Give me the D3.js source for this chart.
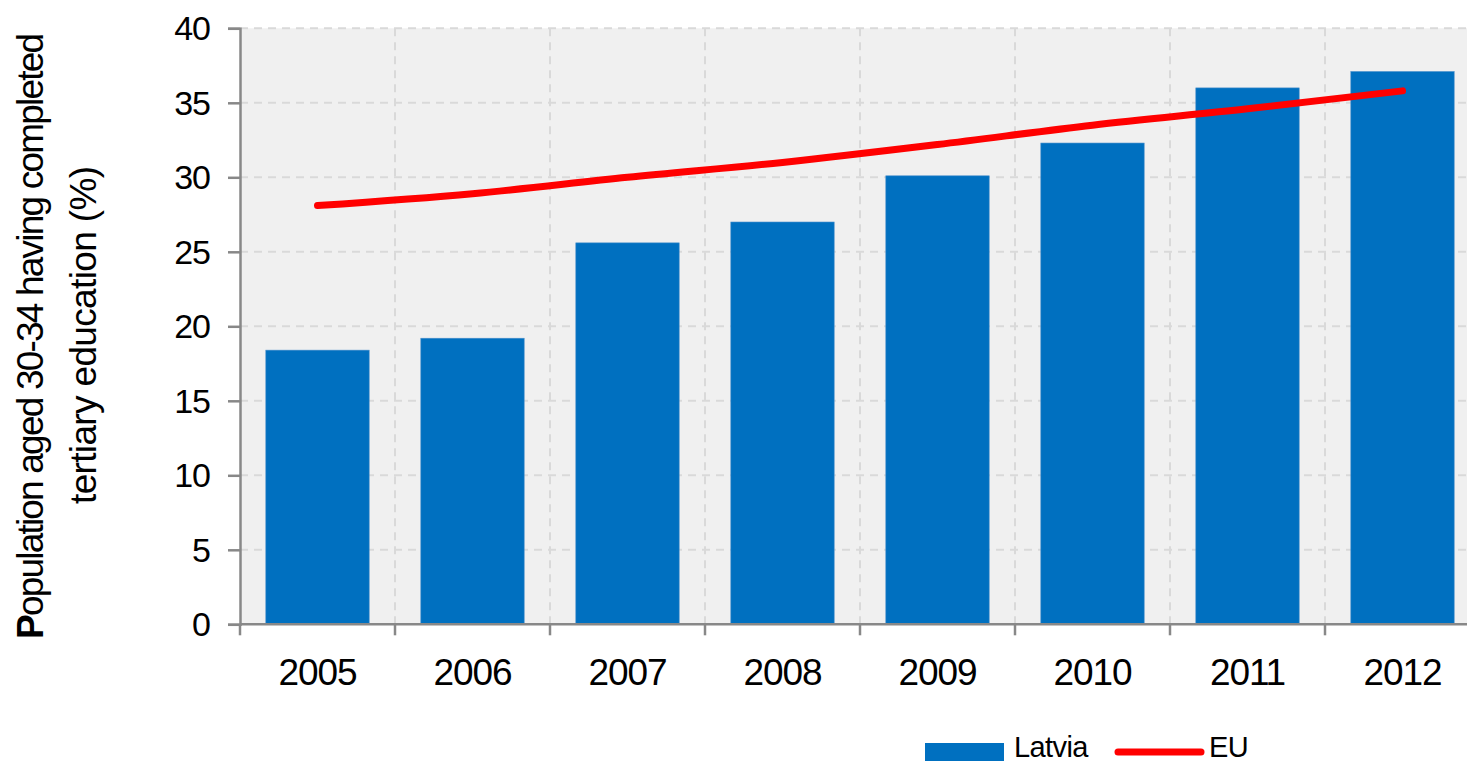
<!DOCTYPE html>
<html><head><meta charset="utf-8">
<script src="https://cdn.jsdelivr.net/npm/d3@7"></script>
<style>
html,body{margin:0;padding:0;background:#fff;}
svg{display:block;font-family:"Liberation Sans",Arial,sans-serif;}
</style></head>
<body><svg id="c" width="1467" height="763"></svg>
<script>
const years = ["2005","2006","2007","2008","2009","2010","2011","2012"];
const latvia = [18.4, 19.2, 25.6, 27.0, 30.1, 32.3, 36.0, 37.1];
const eu = [28.1, 28.9, 30.0, 31.0, 32.2, 33.5, 34.6, 35.8];
const yTicks = [0,5,10,15,20,25,30,35,40];
const seriesNames = ["Latvia","EU"];
const yTitleFirst = "P";
const yTitle1 = "opulation aged 30-34 having completed";
const yTitle2 = "tertiary education (%)";

const svg = d3.select("#c");
const L = 240, R = 1480, T = 28.3, B = 624.3;
const x = d3.scaleBand().domain(years).range([L, R]).paddingInner(0.333).paddingOuter(0.1665);
const y = d3.scaleLinear().domain([0, 40]).range([B, T]);

svg.append("rect").attr("x", L).attr("y", T).attr("width", R - L).attr("height", B - T).attr("fill", "#f0f0f0");

const step = x.step();
const vb = d3.range(1, years.length).map(i => L + i * step);
svg.append("g").selectAll("line").data(vb).join("line")
  .attr("x1", d => d).attr("x2", d => d).attr("y1", T).attr("y2", B)
  .attr("stroke", "#d9d9d9").attr("stroke-width", 2).attr("stroke-dasharray", "8,6");
svg.append("g").selectAll("line").data(yTicks.filter(d => d > 0)).join("line")
  .attr("x1", L).attr("x2", R).attr("y1", d => y(d)).attr("y2", d => y(d))
  .attr("stroke", "#d9d9d9").attr("stroke-width", 2).attr("stroke-dasharray", "8,6");

svg.append("g").selectAll("rect").data(latvia).join("rect")
  .attr("x", (d, i) => x(years[i])).attr("width", x.bandwidth())
  .attr("y", d => y(d)).attr("height", d => B - y(d))
  .attr("fill", "#0070c0").attr("stroke", "#4a90cc").attr("stroke-width", 0.6);

const line = d3.line().x((d, i) => x(years[i]) + x.bandwidth() / 2).y(d => y(d)).curve(d3.curveMonotoneX);
svg.append("path").datum(eu).attr("d", line).attr("fill", "none")
  .attr("stroke", "#ff0000").attr("stroke-width", 7).attr("stroke-linecap", "round").attr("stroke-linejoin", "round");

const yAxis = d3.axisLeft(y).tickValues(yTicks).tickSize(12).tickPadding(18);
const gy = svg.append("g").attr("transform", `translate(${L},0)`).call(yAxis);
gy.select(".domain").attr("stroke", "#888").attr("stroke-width", 2.5);
gy.selectAll(".tick line").attr("stroke", "#888").attr("stroke-width", 2.5);
gy.selectAll(".tick text").attr("font-size", 34).attr("fill", "#000").attr("letter-spacing", -1)
  .attr("font-family", "Liberation Sans, Arial, sans-serif").attr("dy", "0.34em");

const xAxis = d3.axisBottom(x).tickSize(0).tickPadding(34);
const gx = svg.append("g").attr("transform", `translate(0,${B})`).call(xAxis);
gx.select(".domain").attr("stroke", "#888").attr("stroke-width", 2.5).attr("d", `M${L},0H${R}`);
gx.selectAll(".tick text").attr("font-size", 37).attr("fill", "#000").attr("letter-spacing", -1.1)
  .attr("font-family", "Liberation Sans, Arial, sans-serif");
gx.append("g").selectAll("line").data([L, ...vb]).join("line")
  .attr("x1", d => d).attr("x2", d => d).attr("y1", 0).attr("y2", 11)
  .attr("stroke", "#888").attr("stroke-width", 2.5);

// y title
const yt1 = svg.append("text").attr("transform", "translate(43,336) rotate(-90)")
  .attr("text-anchor", "middle").attr("font-size", 37).attr("fill", "#000")
  .attr("textLength", 606).attr("lengthAdjust", "spacing");
yt1.append("tspan").attr("font-weight", "bold").text(yTitleFirst);
yt1.append("tspan").text(yTitle1);
svg.append("text").attr("transform", "translate(96,335) rotate(-90)")
  .attr("text-anchor", "middle").attr("font-size", 37).attr("fill", "#000")
  .attr("textLength", 338).attr("lengthAdjust", "spacing").text(yTitle2);

// legend
const lg = svg.append("g");
lg.append("rect").attr("x", 925).attr("y", 743).attr("width", 79).attr("height", 18).attr("fill", "#0070c0");
lg.append("text").attr("x", 1014).attr("y", 757).attr("font-size", 29).attr("letter-spacing", -0.6).text(seriesNames[0]);
lg.append("line").attr("x1", 1118).attr("x2", 1201).attr("y1", 752).attr("y2", 752)
  .attr("stroke", "#ff0000").attr("stroke-width", 7).attr("stroke-linecap", "round");
lg.append("text").attr("x", 1209).attr("y", 757).attr("font-size", 29).attr("letter-spacing", -0.6).text(seriesNames[1]);
</script></body></html>
